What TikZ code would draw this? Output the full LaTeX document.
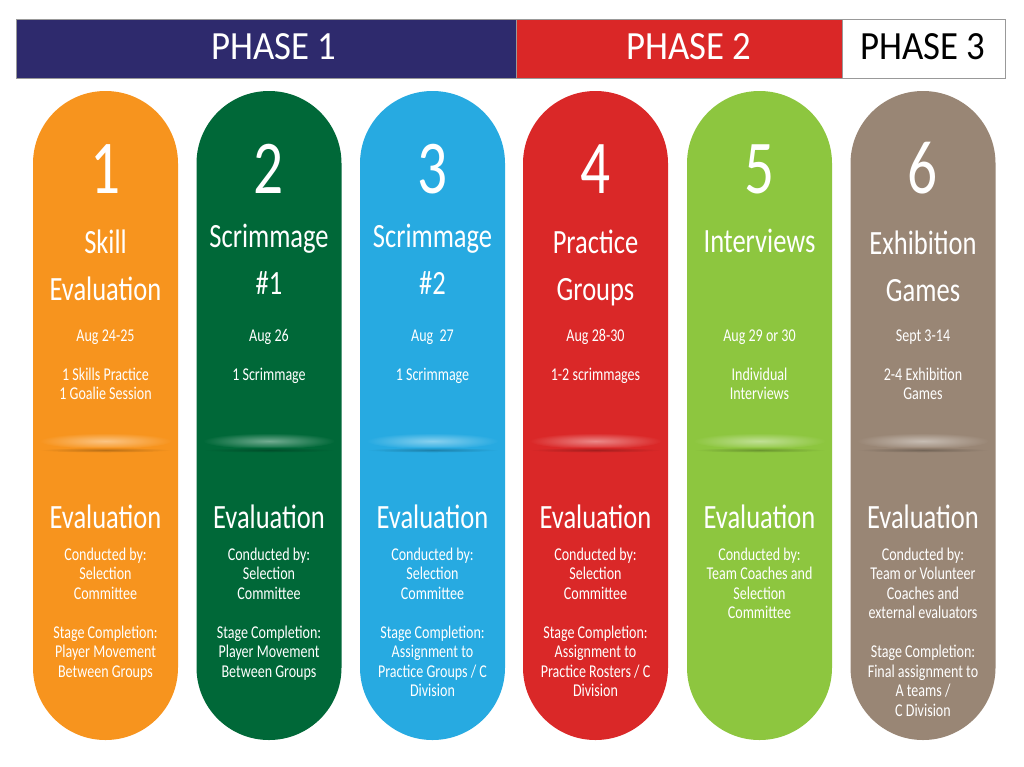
\documentclass[tikz,border=0pt]{standalone}
\usepackage{fontspec}
\setmainfont[FakeStretch=0.78]{Carlito}
\newfontfamily\phasefont[FakeStretch=0.92]{Carlito}
\usepackage{xcolor}
\usepackage{tikz}
\usetikzlibrary{shapes,backgrounds}
\definecolor{navy}{HTML}{2E2A6D}
\definecolor{hdred}{HTML}{DA2727}
\definecolor{orng}{HTML}{F7941E}
\definecolor{dgreen}{HTML}{006838}
\definecolor{sky}{HTML}{27AAE1}
\definecolor{pred}{HTML}{DA2828}
\definecolor{lime}{HTML}{8DC63F}
\definecolor{taupe}{HTML}{998675}
\tikzstyle{phase}=[rectangle, draw=gray!80, line width=0.8pt,% header boxes
minimum height=59pt, inner sep=0pt]
\tikzstyle{phasetxt}=[anchor=base, font=\phasefont\fontsize{40}{40}\selectfont]
\tikzstyle{pill}=[rectangle, minimum width=145pt, minimum height=649pt,
rounded corners=72.4pt, inner sep=0pt]
\tikzstyle{num}=[white, anchor=base, font=\fontsize{76}{76}\selectfont]
% multi-line texts: base anchor sits on the last line
\tikzstyle{ttl}=[white, anchor=base, align=center, font=\fontsize{34}{47}\selectfont]
\tikzstyle{evl}=[white, anchor=base, font=\fontsize{34}{40}\selectfont]
\tikzstyle{small}=[white, anchor=base, align=center, font=\fontsize{18}{19.6}\selectfont]
\begin{document}
\begin{tikzpicture}[x=1pt,y=-1pt]
\useasboundingbox[fill=white] (0,0) rectangle (1024,766);
\node[phase, fill=navy, minimum width=500pt] (ph1) at (266,48.5) {};
\node[phase, fill=hdred, minimum width=326pt] (ph2) at (679,48.5) {};
\node[phase, fill=white, minimum width=163pt] (ph3) at (923.5,48.5) {};
\node[phasetxt, white] (pt1) at (274,59) {PHASE 1};
\node[phasetxt, white] (pt2) at (689,59) {PHASE 2};
\node[phasetxt, black] (pt3) at (923,59) {PHASE 3};
% stage 1
\node[pill, fill=orng] (p1) at (105.5,415.5) {};
\node[num] (n1) at (105.5,193) {1};
\node[ttl] (h1) at (105.5,300) {Skill\\Evaluation};
\node[small] (d1) at (105.5,341) {Aug 24-25};
\node[small] (a1) at (105.5,399.6) {1 Skills Practice\\1 Goalie Session};
\shade[inner color=orng!55!white, outer color=orng] (105.5,441) ellipse (66 and 8);
\shade[inner color=orng!75!black, outer color=orng] (105.5,450) ellipse (66 and 2.5);
\node[evl] (e1) at (105.5,528) {Evaluation};
\node[small] (c1) at (105.5,599.2) {Conducted by:\\Selection\\Committee};
\node[small] (s1) at (105.5,677.2) {Stage Completion:\\Player Movement\\Between Groups};
% stage 2
\node[pill, fill=dgreen] (p2) at (269,415.5) {};
\node[num] (n2) at (269,193) {2};
\node[ttl] (h2) at (269,294) {Scrimmage\\\#1};
\node[small] (d2) at (269,341) {Aug 26};
\node[small] (a2) at (269,380) {1 Scrimmage};
\shade[inner color=dgreen!55!white, outer color=dgreen] (269,441) ellipse (66 and 8);
\shade[inner color=dgreen!75!black, outer color=dgreen] (269,450) ellipse (66 and 2.5);
\node[evl] (e2) at (269,528) {Evaluation};
\node[small] (c2) at (269,599.2) {Conducted by:\\Selection\\Committee};
\node[small] (s2) at (269,677.2) {Stage Completion:\\Player Movement\\Between Groups};
% stage 3
\node[pill, fill=sky] (p3) at (432.5,415.5) {};
\node[num] (n3) at (432.5,193) {3};
\node[ttl] (h3) at (432.5,294) {Scrimmage\\\#2};
\node[small] (d3) at (432.5,341) {Aug~ 27};
\node[small] (a3) at (432.5,380) {1 Scrimmage};
\shade[inner color=sky!55!white, outer color=sky] (432.5,441) ellipse (66 and 8);
\shade[inner color=sky!75!black, outer color=sky] (432.5,450) ellipse (66 and 2.5);
\node[evl] (e3) at (432.5,528) {Evaluation};
\node[small] (c3) at (432.5,599.2) {Conducted by:\\Selection\\Committee};
\node[small] (s3) at (432.5,696.8) {Stage Completion:\\Assignment to\\Practice Groups / C\\Division};
% stage 4
\node[pill, fill=pred] (p4) at (595.5,415.5) {};
\node[num] (n4) at (595.5,193) {4};
\node[ttl] (h4) at (595.5,300) {Practice\\Groups};
\node[small] (d4) at (595.5,341) {Aug 28-30};
\node[small] (a4) at (595.5,380) {1-2 scrimmages};
\shade[inner color=pred!55!white, outer color=pred] (595.5,441) ellipse (66 and 8);
\shade[inner color=pred!75!black, outer color=pred] (595.5,450) ellipse (66 and 2.5);
\node[evl] (e4) at (595.5,528) {Evaluation};
\node[small] (c4) at (595.5,599.2) {Conducted by:\\Selection\\Committee};
\node[small] (s4) at (595.5,696.8) {Stage Completion:\\Assignment to\\Practice Rosters / C\\Division};
% stage 5
\node[pill, fill=lime] (p5) at (759.5,415.5) {};
\node[num] (n5) at (759.5,193) {5};
\node[ttl] (h5) at (759.5,252) {Interviews};
\node[small] (d5) at (759.5,341) {Aug 29 or 30};
\node[small] (a5) at (759.5,399.6) {Individual\\Interviews};
\shade[inner color=lime!55!white, outer color=lime] (759.5,441) ellipse (66 and 8);
\shade[inner color=lime!75!black, outer color=lime] (759.5,450) ellipse (66 and 2.5);
\node[evl] (e5) at (759.5,528) {Evaluation};
\node[small] (c5) at (759.5,618.8) {Conducted by:\\Team Coaches and\\Selection\\Committee};
% stage 6
\node[pill, fill=taupe] (p6) at (923,415.5) {};
\node[num] (n6) at (923,193) {6};
\node[ttl] (h6) at (923,301) {Exhibition\\Games};
\node[small] (d6) at (923,341) {Sept 3-14};
\node[small] (a6) at (923,399.6) {2-4 Exhibition\\Games};
\shade[inner color=taupe!55!white, outer color=taupe] (923,441) ellipse (66 and 8);
\shade[inner color=taupe!75!black, outer color=taupe] (923,450) ellipse (66 and 2.5);
\node[evl] (e6) at (923,528) {Evaluation};
\node[small] (c6) at (923,618.8) {Conducted by:\\Team or Volunteer\\Coaches and\\external evaluators};
\node[small] (s6) at (923,716.4) {Stage Completion:\\Final assignment to\\A teams /\\C Division};
\end{tikzpicture}
\end{document}
